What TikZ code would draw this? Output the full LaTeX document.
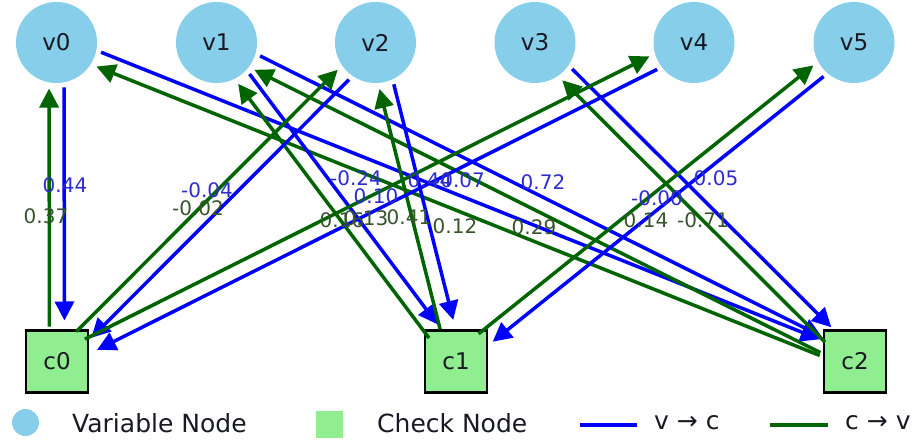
\documentclass[tikz,border=0pt]{standalone}
\usepackage{fontspec}
\setmainfont{DejaVu Sans}
\usetikzlibrary{arrows.meta,calc}

\definecolor{skyblue}{HTML}{87CEEB}
\definecolor{lightgreen}{HTML}{90EE90}
\definecolor{vcblue}{HTML}{0000FF}
\definecolor{cvgreen}{HTML}{006400}
\definecolor{vctext}{RGB}{45,45,205}
\definecolor{cvtext}{RGB}{55,85,45}
\definecolor{inktext}{RGB}{25,25,35}

% one variable--check connection: v->c message (blue) and c->v message (green),
% drawn as two parallel arrows on either side of the centre line
\newcommand\msgpair[2]{%
  \draw[vcarrow] ($(#1)!45pt!(#2)!7.5pt!90:(#2)$) -- ($(#2)!41pt!(#1)!7.5pt!-90:(#1)$);
  \draw[cvarrow] ($(#2)!35pt!(#1)!7.5pt!90:(#1)$) -- ($(#1)!46pt!(#2)!7.5pt!-90:(#2)$);
}

\begin{document}
\begin{tikzpicture}[x=1pt,y=-1pt,
  varnode/.style={circle, fill=skyblue, minimum size=81pt, inner sep=0pt,
    text=inktext, font=\fontsize{23}{27}\selectfont},
  chknode/.style={rectangle, fill=lightgreen, draw=black, line width=2.4pt,
    minimum size=62pt, inner sep=0pt, text=inktext, font=\fontsize{23}{27}\selectfont},
  vcarrow/.style={draw=vcblue, line width=3.5pt, -{Triangle[length=19pt,width=19pt]}},
  cvarrow/.style={draw=cvgreen, line width=3.5pt, -{Triangle[length=19pt,width=19pt]}},
  vclabel/.style={inner sep=0pt, text=vctext, font=\fontsize{20}{23}\selectfont},
  cvlabel/.style={inner sep=0pt, text=cvtext, font=\fontsize{20}{23}\selectfont},
  legtext/.style={inner sep=0pt, anchor=west, text=inktext, font=\fontsize{25}{29}\selectfont},
]
\useasboundingbox (0,0) rectangle (917,440);

% variable nodes
\node[varnode] (v0) at (56.5,42.5) {v0};
\node[varnode] (v1) at (216.5,42.5) {v1};
\node[varnode] (v2) at (375.5,42.5) {v2};
\node[varnode] (v3) at (535,42.5) {v3};
\node[varnode] (v4) at (694,42.5) {v4};
\node[varnode] (v5) at (854,42.5) {v5};

% check nodes
\node[chknode] (c0) at (57,361.5) {c0};
\node[chknode] (c1) at (456,361.5) {c1};
\node[chknode] (c2) at (855,361.5) {c2};

% messages along every edge of the Tanner graph
\msgpair{v0}{c0}
\msgpair{v0}{c2}
\msgpair{v1}{c1}
\msgpair{v1}{c2}
\msgpair{v2}{c0}
\msgpair{v2}{c1}
\msgpair{v3}{c2}
\msgpair{v4}{c0}
\msgpair{v5}{c1}

% message values, v -> c
\node[vclabel] (m00) at (65,185) {0.44};
\node[vclabel] (m20) at (207,190) {-0.04};
\node[vclabel] (m11) at (356,178) {-0.24};
\node[vclabel] (m40) at (376,196) {0.10};
\node[vclabel] (m21) at (430,180) {0.44};
\node[vclabel] (m02) at (459,180) {-0.07};
\node[vclabel] (m12) at (543,182) {0.72};
\node[vclabel] (m51) at (657,198) {-0.00};
\node[vclabel] (m32) at (716,178) {0.05};

% message values, c -> v
\node[cvlabel] (n00) at (46,216) {0.37};
\node[cvlabel] (n20) at (198,208) {-0.02};
\node[cvlabel] (n11) at (342,220) {0.16};
\node[cvlabel] (n40) at (366,218) {0.13};
\node[cvlabel] (n21) at (409,217) {0.41};
\node[cvlabel] (n02) at (455,226) {0.12};
\node[cvlabel] (n12) at (534,227) {0.29};
\node[cvlabel] (n51) at (646,220) {0.14};
\node[cvlabel] (n32) at (703,220) {-0.71};

% legend
\node[circle, fill=skyblue, minimum size=27pt, inner sep=0pt] (ldot) at (25.5,422.5) {};
\node[legtext] (lvar) at (72,423) {Variable Node};
\node[rectangle, fill=lightgreen, minimum size=27pt, inner sep=0pt] (lsq) at (329,424.5) {};
\node[legtext] (lchk) at (377,423) {Check Node};
\coordinate (lb0) at (580,425);
\coordinate (lb1) at (637,425);
\draw[vcblue, line width=3.8pt] (lb0) -- (lb1);
\node[legtext] (lvc) at (654,423) {v → c};
\coordinate (lg0) at (770,425);
\coordinate (lg1) at (828,425);
\draw[cvgreen, line width=3.8pt] (lg0) -- (lg1);
\node[legtext] (lcv) at (845,423) {c → v};
\end{tikzpicture}
\end{document}
